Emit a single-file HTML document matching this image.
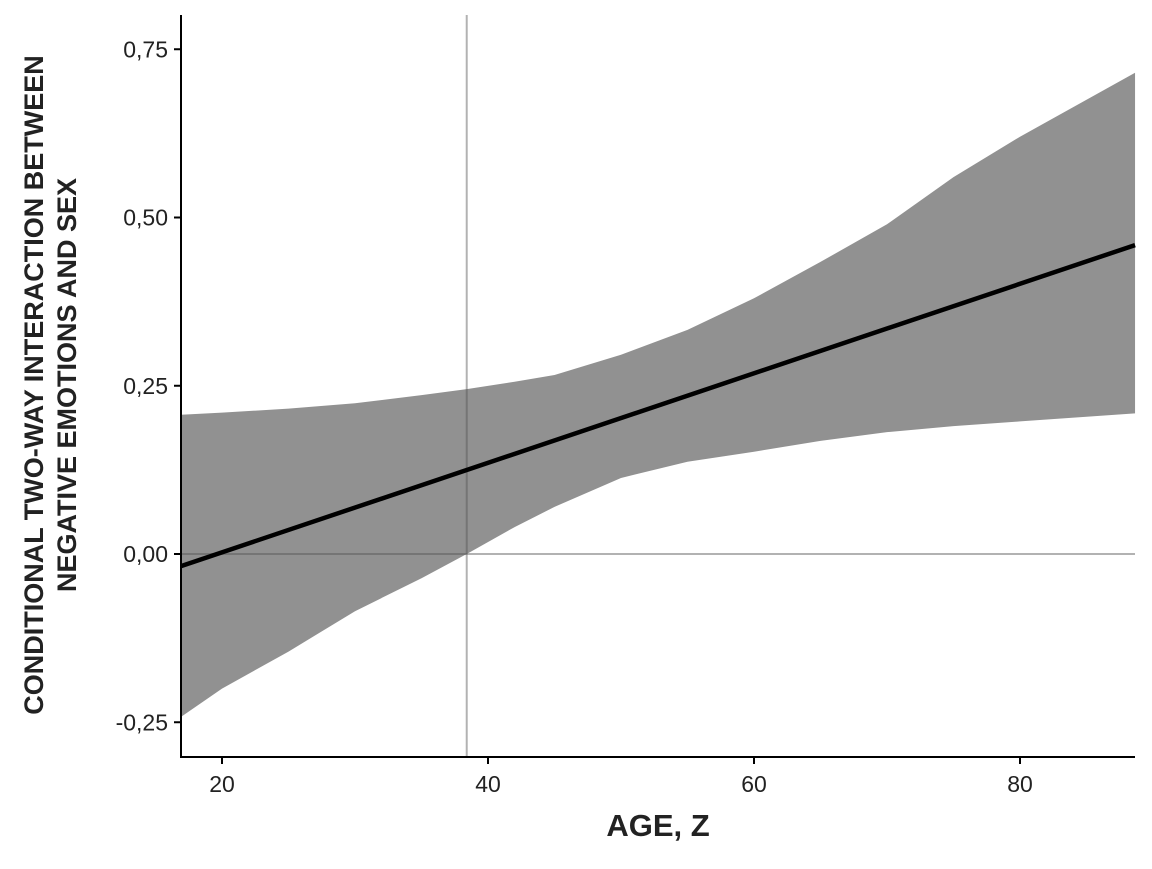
<!DOCTYPE html>
<html><head><meta charset="utf-8"><style>
body{margin:0;background:#fff}
svg text{font-family:"Liberation Sans","DejaVu Sans",sans-serif;fill:#222}
</style></head><body>
<svg id="chart" width="1152" height="864"></svg>
<script>
const xs=[16.92,20,25,30,35,38.4,42,45,50,55,60,65,70,75,80,85,88.65];
const upper=[0.207,0.21,0.216,0.224,0.236,0.245,0.256,0.266,0.296,0.333,0.38,0.434,0.49,0.56,0.62,0.675,0.715];
const lower=[-0.242,-0.2,-0.145,-0.085,-0.036,0,0.04,0.07,0.113,0.137,0.152,0.168,0.181,0.19,0.197,0.204,0.209];
const fitX=[16.92,88.65];
const fitY=[-0.018,0.459];
const xTicks=[20,40,60,80];
const yTicks=[-0.25,0,0.25,0.5,0.75];
const yTickLabels=["-0,25","0,00","0,25","0,50","0,75"];
const vRef=38.4, hRef=0;
const X=v=>222+(v-20)*13.3;
const Y=v=>554-v*673;
const ns="http://www.w3.org/2000/svg";
const svg=document.getElementById('chart');
function mk(t,a,p){const e=document.createElementNS(ns,t);for(const k in a)e.setAttribute(k,a[k]);(p||svg).appendChild(e);return e;}
let d=xs.map((x,i)=>(i?'L':'M')+X(x)+','+Y(upper[i])).join('');
for(let i=xs.length-1;i>=0;i--)d+='L'+X(xs[i])+','+Y(lower[i]);
const band=mk('path',{d:d+'Z',fill:'#919191'});


const vl=mk('line',{x1:X(vRef),x2:X(vRef),y1:15,y2:757,stroke:'#555','stroke-opacity':0.45,'stroke-width':2});


const hl=mk('line',{x1:181,x2:1135,y1:Y(hRef),y2:Y(hRef),stroke:'#555','stroke-opacity':0.45,'stroke-width':2});


const fl=mk('line',{x1:X(fitX[0]),y1:Y(fitY[0]),x2:X(fitX[1]),y2:Y(fitY[1]),stroke:'#000','stroke-width':4.5});


const ax=mk('path',{d:'M181,15V757H1135',fill:'none',stroke:'#000','stroke-width':2});


xTicks.forEach(t=>{
 mk('line',{x1:X(t),x2:X(t),y1:757,y2:764,stroke:'#000','stroke-width':2});
 const e=mk('text',{x:X(t),y:792,'text-anchor':'middle','font-size':23});e.textContent=t;
 
 
});
yTicks.forEach((t,i)=>{
 mk('line',{x1:174,x2:181,y1:Y(t),y2:Y(t),stroke:'#000','stroke-width':2});
 const e=mk('text',{x:168,y:Y(t)+8,'text-anchor':'end','font-size':23});e.textContent=yTickLabels[i];
 
 
});
const xt=mk('text',{x:658,y:836,'text-anchor':'middle','font-size':31,'font-weight':'bold'});xt.textContent='AGE, Z';


const yt=mk('text',{transform:'translate(0,385) rotate(-90)','text-anchor':'middle','font-size':27,'font-weight':'bold'});


const t1=mk('tspan',{x:0,y:43},yt);t1.textContent='CONDITIONAL TWO-WAY INTERACTION BETWEEN';
const t2=mk('tspan',{x:0,y:76},yt);t2.textContent='NEGATIVE EMOTIONS AND SEX';
</script>
</body></html>
